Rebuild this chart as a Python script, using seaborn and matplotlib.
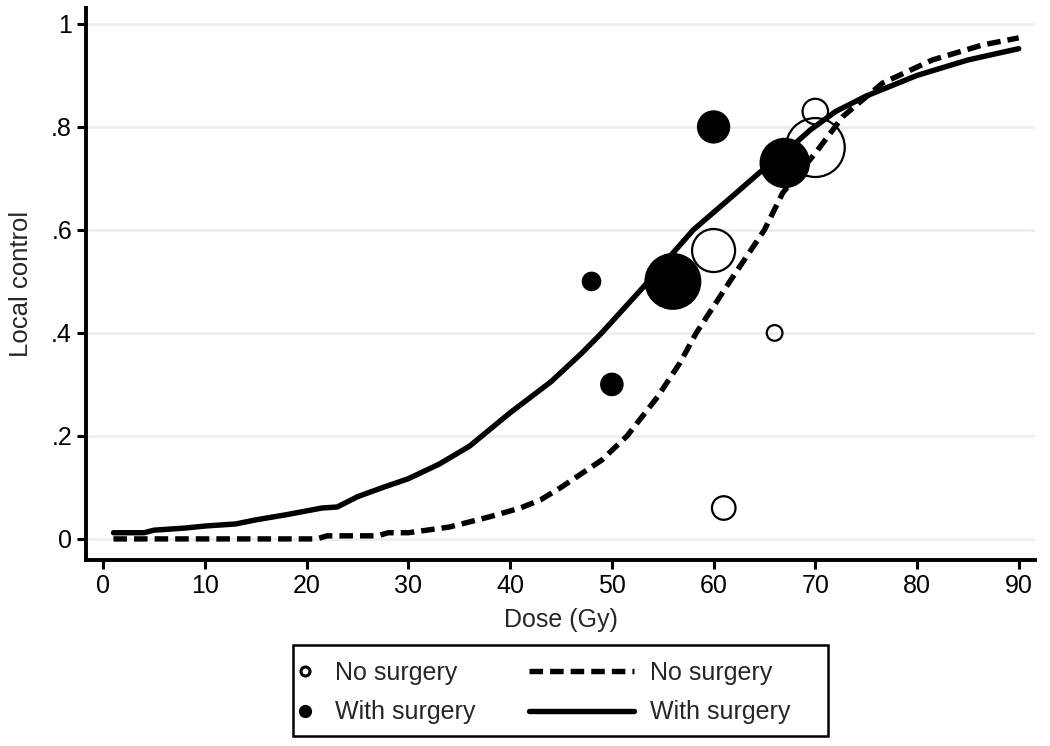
import matplotlib
matplotlib.use('Agg')
import matplotlib.pyplot as plt
import seaborn as sns
from matplotlib.lines import Line2D
from matplotlib.patches import Rectangle

sns.set_style('white')
plt.rcParams['font.family'] = ['Liberation Sans', 'DejaVu Sans']

# Fitted curves
solid_dose = [1, 4, 5, 8, 10, 13, 15, 18, 21.5, 23, 25, 27.5, 30, 33, 36, 40, 44, 47, 49,
              53, 56, 58, 62, 64.5, 67, 69.5, 72, 75, 80, 85, 90]
solid_lc = [0.012, 0.012, 0.017, 0.021, 0.025, 0.029, 0.037, 0.047, 0.06, 0.062, 0.082, 0.1,
            0.117, 0.145, 0.18, 0.245, 0.305, 0.36, 0.4, 0.487, 0.555, 0.6, 0.668, 0.711,
            0.75, 0.794, 0.83, 0.86, 0.9, 0.93, 0.952]

dashed_dose = [1, 21, 22, 27, 28, 30, 34, 38, 41, 43, 45, 49, 51.5, 54.5, 56.7, 58.3, 61.6,
               65, 66.8, 70, 72.7, 76.6, 81.5, 86.4, 90]
dashed_lc = [0, 0, 0.006, 0.006, 0.012, 0.012, 0.023, 0.043, 0.06, 0.076, 0.1, 0.153, 0.2,
             0.276, 0.342, 0.4, 0.5, 0.6, 0.672, 0.749, 0.82, 0.885, 0.93, 0.959, 0.973]

# Study points (weight = marker area)
open_dose = [61, 66, 60, 70, 70]
open_lc = [0.06, 0.4, 0.56, 0.83, 0.76]
open_n = [36, 16, 120, 42, 225]

filled_dose = [48, 50, 60, 56, 67]
filled_lc = [0.5, 0.3, 0.8, 0.5, 0.73]
filled_n = [25, 36, 72, 210, 165]

y_ticks = [0, 0.2, 0.4, 0.6, 0.8, 1]
y_labels = ['0', '.2', '.4', '.6', '.8', '1']
x_ticks = list(range(0, 100, 10))

fig = plt.figure(figsize=(10.5, 7.46), dpi=100)
ax = fig.add_axes([0.0819, 0.2493, 0.9038, 0.74])

for y in y_ticks:
    ax.axhline(y, color='#e6eff1', lw=1.8, zorder=0)

dash = (0, (2.5, 1.3))
sns.lineplot(x=dashed_dose, y=dashed_lc, ax=ax, color='black', lw=3.9, linestyle=dash, zorder=2)
sns.lineplot(x=solid_dose, y=solid_lc, ax=ax, color='black', lw=3.9, zorder=2)

k = 8  # points^2 per unit weight
sns.scatterplot(x=open_dose, y=open_lc, size=open_n, sizes=(min(open_n) * k, max(open_n) * k),
                size_norm=(min(open_n), max(open_n)), ax=ax, legend=False,
                facecolor='none', edgecolor='black', linewidth=1.6, zorder=3)
sns.scatterplot(x=filled_dose, y=filled_lc, size=filled_n,
                sizes=(min(filled_n) * k, max(filled_n) * k),
                size_norm=(min(filled_n), max(filled_n)), ax=ax, legend=False,
                color='black', edgecolor='black', linewidth=0, zorder=3)

ax.set_xlim(-1.7, 91.6)
ax.set_ylim(-0.041, 1.031)
ax.set_xticks(x_ticks)
ax.set_yticks(y_ticks)
ax.set_yticklabels(y_labels)
ax.tick_params(axis='both', direction='out', length=6.5, width=2.2, colors='black',
               bottom=True, left=True, labelsize=18)
for side in ['top', 'right']:
    ax.spines[side].set_visible(False)
for side in ['left', 'bottom']:
    ax.spines[side].set_color('black')
    ax.spines[side].set_linewidth(2.8)

ax.set_xlabel('Dose (Gy)', fontsize=18, labelpad=7)
ax.set_ylabel('Local control', fontsize=18.5)
ax.yaxis.set_label_coords(-0.056, 0.5)

# legend box below the plot
h_open = Line2D([], [], marker='o', ls='none', mfc='white', mec='black', mew=2.2, ms=6.5)
h_fill = Line2D([], [], marker='o', ls='none', color='black', ms=8.5)
h_dash = Line2D([], [], color='black', lw=3.9, ls=dash)
h_solid = Line2D([], [], color='black', lw=3.9)

leg_y = (746 - 692.5) / 746
fig.legend([h_open, h_fill], ['No surgery', 'With surgery'], loc='center left',
           bbox_to_anchor=(295 / 1050, leg_y), frameon=False, fontsize=18, handlelength=0.8,
           handletextpad=0.8, labelspacing=0.62, borderpad=0, borderaxespad=0)
fig.legend([h_dash, h_solid], ['No surgery', 'With surgery'], loc='center left',
           bbox_to_anchor=(529 / 1050, leg_y), frameon=False, fontsize=18, handlelength=4.2,
           handletextpad=0.64, labelspacing=0.62, borderpad=0, borderaxespad=0)
fig.add_artist(Rectangle((293 / 1050, 10 / 746), 535 / 1050, 91 / 746, transform=fig.transFigure,
                         fill=False, lw=1.8, ec='black'))

fig.savefig('out.png', dpi=100)
